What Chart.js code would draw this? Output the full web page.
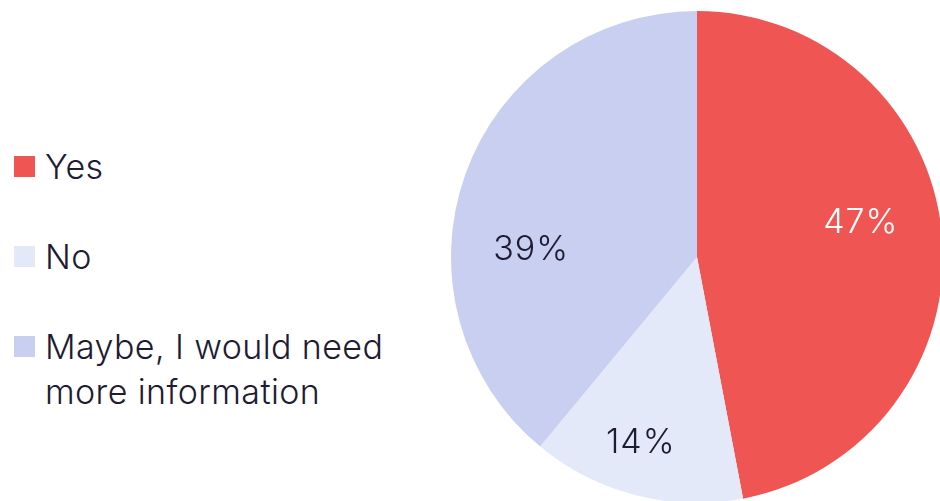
<!DOCTYPE html>
<html>
<head>
<meta charset="utf-8">
<script src="https://cdn.jsdelivr.net/npm/chart.js@4"></script>
<style>
  html, body { margin: 0; padding: 0; width: 940px; height: 501px; overflow: hidden; background: #fff; }
  body { position: relative; font-family: 'Inter', sans-serif; font-weight: 300; color: #1e1b33; }
  #pieWrap { position: absolute; left: 451px; top: 11px; width: 492px; height: 492px; }
  .legend-item { position: absolute; left: 14px; }
  .legend-box { width: 21px; height: 21px; }
  .legend-text { position: absolute; left: 31px; top: -12px; font-size: 34px; line-height: 45px; white-space: nowrap; letter-spacing: 0.4px; }
</style>
</head>
<body>
<div id="legend"></div>
<div id="pieWrap"><canvas id="pieChart"></canvas></div>
<script>
// Survey answers
const labels = ['Yes', 'No', 'Maybe, I would need\nmore information'];
const values = [47, 14, 39];
const colors = ['#ef5552', '#e4e9fa', '#c9cff0'];
const labelColors = ['#ffffff', '#1e1b33', '#1e1b33'];

// where each percentage sits inside its slice (fraction along the arc, fraction of radius)
const labelAlong = [0.463, 0.548, 0.376];
const labelRadius = [0.68, 0.79, 0.675];

// Legend on the left
const legendEl = document.getElementById('legend');
let html = '';
labels.forEach((label, i) => {
  html += `
    <div class="legend-item" style="top:${156 + i * 90}px">
      <div class="legend-box" style="background:${colors[i]}"></div>
      <div class="legend-text">${label.replace('\n', '<br>')}</div>
    </div>
  `;
});
legendEl.innerHTML = html;

// Percent labels drawn on each slice
const sliceLabels = {
  id: 'sliceLabels',
  afterDatasetsDraw(chart) {
    const ctx = chart.ctx;
    const meta = chart.getDatasetMeta(0);
    ctx.save();
    ctx.font = '300 34px Inter';
    ctx.letterSpacing = '1px';
    ctx.textAlign = 'center';
    ctx.textBaseline = 'middle';
    meta.data.forEach((arc, i) => {
      const { x, y, startAngle, endAngle, outerRadius } = arc.getProps(['x', 'y', 'startAngle', 'endAngle', 'outerRadius'], true);
      const a = startAngle + (endAngle - startAngle) * labelAlong[i];
      const r = outerRadius * labelRadius[i];
      ctx.fillStyle = labelColors[i];
      ctx.fillText(values[i] + '%', x + Math.cos(a) * r, y + Math.sin(a) * r);
    });
    ctx.restore();
  }
};

const pieCtx = document.getElementById('pieChart').getContext('2d');
const pieChart = new Chart(pieCtx, {
  type: 'pie',
  data: {
    labels: labels,
    datasets: [{
      data: values,
      backgroundColor: colors,
      borderWidth: 0
    }]
  },
  options: {
    responsive: true,
    maintainAspectRatio: false,
    animation: false,
    layout: { padding: 0 },
    plugins: {
      legend: { display: false },
      tooltip: { enabled: false }
    }
  },
  plugins: [sliceLabels]
});
</script>
</body>
</html>
